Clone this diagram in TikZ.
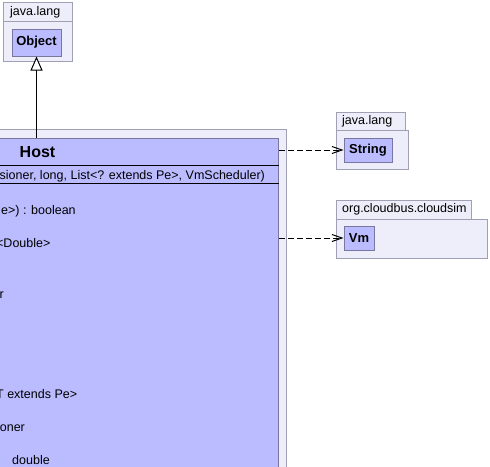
\documentclass[tikz,border=0pt]{standalone}
\usepackage{fontspec}
\setmainfont{Liberation Sans}
\usetikzlibrary{arrows.meta}
\definecolor{pkgfill}{HTML}{EEEEFA}
\definecolor{pkgline}{HTML}{A0A0B4}
\definecolor{clsfill}{HTML}{BBBBFF}
\definecolor{clsline}{HTML}{7777A0}
\tikzset{
  pkg/.style={draw=pkgline, fill=pkgfill, line width=1pt, inner sep=0pt, anchor=north west},
  cls/.style={draw=clsline, fill=clsfill, line width=1pt, inner sep=0pt, font=\fontsize{13}{15}\selectfont\bfseries},
  pkgname/.style={anchor=west, inner sep=0pt, font=\fontsize{12.5}{14}\selectfont},
  member/.style={anchor=base west, inner sep=0pt, font=\fontsize{12.5}{14}\selectfont},
  dep/.style={dash pattern=on 6pt off 3pt, line width=1pt, -{Straight Barb[length=10pt,width=7pt]}},
  inherit/.style={line width=1pt, -{Triangle[open,length=14pt,width=12pt,fill=white]}}
}
\begin{document}
\begin{tikzpicture}[x=1pt,y=-1pt]
\useasboundingbox (0,0) rectangle (490,466);
\clip (0,0) rectangle (490,466);
% Object package
\node[pkg, minimum width=69pt, minimum height=19pt] (objtab) at (3,2) {};
\node[pkg, minimum width=69pt, minimum height=40pt] (objpkg) at (3,21) {};
\node[pkgname] (objpkgname) at (10,12) {java.lang};
\node[cls, minimum width=49pt, minimum height=27pt] (objbox) at (36.5,42.5) {Object};
% String package
\node[pkg, minimum width=69pt, minimum height=18pt] (strtab) at (336,112) {};
\node[pkg, minimum width=72pt, minimum height=39pt] (strpkg) at (336,130) {};
\node[pkgname] (strpkgname) at (342,121) {java.lang};
\node[cls, minimum width=48pt, minimum height=24pt] (strbox) at (368,150) {String};
% cloudsim package
\node[pkg, minimum width=135pt, minimum height=19pt] (vmtab) at (336,200) {};
\node[pkg, minimum width=151pt, minimum height=39pt] (vmpkg) at (336,219) {};
\node[pkgname] (vmpkgname) at (342,209.5) {org.cloudbus.cloudsim};
\node[cls, minimum width=30pt, minimum height=24pt] (vmbox) at (359,238) {Vm};
% Host
\node[pkg, minimum width=586pt, minimum height=400pt] (hostframe) at (-300,129) {};
\node[draw=clsline, fill=clsfill, line width=1pt, inner sep=0pt, anchor=north west, minimum width=578pt, minimum height=400pt] (hostbox) at (-300,138) {};
\node[anchor=base, inner sep=0pt, font=\fontsize{16}{18}\selectfont\bfseries] (hosttitle) at (37.5,157) {Host};
\draw[line width=1pt] (hostbox.west |- 0,165) coordinate (s1a) -- (hostbox.east |- 0,165) coordinate (s1b);
\draw[line width=1pt] (hostbox.west |- 0,183) coordinate (s2a) -- (hostbox.east |- 0,183) coordinate (s2b);
\node[member] (m0) at (-0.5,179) {sioner, long, List<? extends Pe>, VmScheduler)};
\node[member] (m1) at (1,214) {e>) : boolean};
\node[member] (m2) at (-4,247) {<Double>};
\node[member] (m3) at (-0.5,298) {r};
\node[member] (m4) at (-4,398) {T extends Pe>};
\node[member] (m5) at (-0.3,431) {oner};
\node[member] (m6) at (12,464) {double};
% connectors
\draw[inherit] (objbox.south |- hostbox.north) -- (objbox.south);
\draw[dep] (hostbox.east |- strbox.west) -- (strbox.west);
\draw[dep] (hostbox.east |- vmbox.west) -- (vmbox.west);
\end{tikzpicture}
\end{document}
